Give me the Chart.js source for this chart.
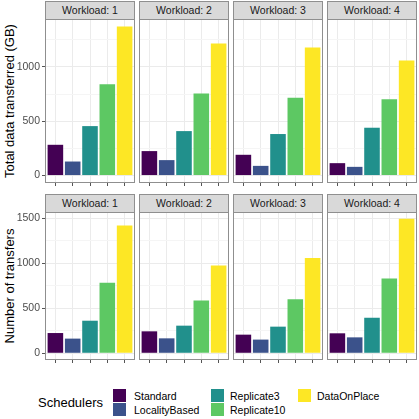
<!DOCTYPE html>
<html lang="en">
<head>
<meta charset="UTF-8">
<title>Schedulers by workload</title>
<script src="https://cdn.jsdelivr.net/npm/chart.js@4.4.1/dist/chart.umd.min.js"></script>
<style>
  body { margin: 0; background: #fff; font-family: "Liberation Sans", Arial, sans-serif; }
  #page { position: relative; width: 419px; height: 419px; overflow: hidden; }
  canvas { position: absolute; }
  .strip { position: absolute; box-sizing: border-box; background: #d9d9d9; border: 1px solid #8f8f8f;
           font-size: 10.5px; color: #1a1a1a; text-align: center; }
  .ytitle { position: absolute; transform: translate(-50%, -50%) rotate(-90deg); font-size: 13px;
            white-space: nowrap; color: #000; }
  .legend-title { position: absolute; left: 38px; top: 395px; font-size: 13px; color: #000; }
  .key { position: absolute; width: 13px; height: 13px; }
  .key-label { position: absolute; font-size: 10.5px; color: #000; white-space: nowrap; }
</style>
</head>
<body>
<div id="page"></div>

<script>
// ---- data ----
const workloads = ['1', '2', '3', '4'];
const schedulers = ['Standard', 'LocalityBased', 'Replicate3', 'Replicate10', 'DataOnPlace'];
const colors = ['#440154', '#3B528B', '#21908C', '#5DC863', '#FDE725'];

// Total data transferred (GB), one array per workload, in scheduler order
const gbW1 = [283, 129, 455, 840, 1372];
const gbW2 = [225, 142, 409, 754, 1215];
const gbW3 = [191, 89, 382, 717, 1178];
const gbW4 = [114, 80, 440, 702, 1058];

// Number of transfers
const trW1 = [225, 163, 362, 783, 1422];
const trW2 = [244, 166, 307, 587, 975];
const trW3 = [207, 152, 296, 602, 1060];
const trW4 = [222, 177, 395, 831, 1496];

const gbMajorTicks = [0, 500, 1000];
const trMajorTicks = [0, 500, 1000, 1500];
const minorTicks = [250, 750, 1250];

// ---- layout ----
const panelLeft = [45, 139, 233, 327];
const panelW = 90;
const axisW = 45;
const rows = [
  { title: 'Total data transferred (GB)', series: [gbW1, gbW2, gbW3, gbW4], major: gbMajorTicks, stripTop: 1, top: 19, h: 164 },
  { title: 'Number of transfers', series: [trW1, trW2, trW3, trW4], major: trMajorTicks, stripTop: 194, top: 212, h: 148 }
];

Chart.defaults.font.family = '"Liberation Sans", Arial, sans-serif';
Chart.defaults.font.size = 10.5;
Chart.defaults.color = '#4d4d4d';

const panelBorder = {
  id: 'panelBorder',
  afterDraw(chart) {
    const a = chart.chartArea, c = chart.ctx;
    c.save();
    c.strokeStyle = '#8f8f8f';
    c.lineWidth = 1;
    c.strokeRect(a.left + 0.5, a.top + 0.5, a.right - a.left - 1, a.bottom - a.top - 1);
    c.restore();
  }
};

const page = document.getElementById('page');

rows.forEach(row => {
  const allVals = row.series.flat();
  const top = Math.max(...allVals);
  const yMin = -0.05 * top, yMax = 1.05 * top;
  const yTicks = row.major.concat(minorTicks).filter(v => v <= yMax).sort((a, b) => a - b);

  // y axis title
  const t = document.createElement('div');
  t.className = 'ytitle';
  t.textContent = row.title;
  t.style.left = '9px';
  t.style.top = (row.top + row.h / 2) + 'px';
  page.appendChild(t);

  workloads.forEach((w, col) => {
    const strip = document.createElement('div');
    strip.className = 'strip';
    strip.textContent = 'Workload: ' + w;
    strip.style.left = panelLeft[col] + 'px';
    strip.style.top = row.stripTop + 'px';
    strip.style.width = panelW + 'px';
    strip.style.height = (row.top - row.stripTop + 1) + 'px';
    strip.style.lineHeight = (row.top - row.stripTop - 1) + 'px';
    page.appendChild(strip);

    const left = col === 0 ? 0 : panelLeft[col];
    const yw = col === 0 ? axisW : 0;
    const cv = document.createElement('canvas');
    cv.width = panelW + yw;
    cv.height = row.h + 4;
    cv.style.left = left + 'px';
    cv.style.top = row.top + 'px';
    page.appendChild(cv);

    const vals = row.series[col];
    new Chart(cv, {
      type: 'bar',
      data: {
        datasets: [{
          data: vals.map((v, i) => ({ x: i + 1, y: v })),
          backgroundColor: colors,
          borderWidth: 0,
          categoryPercentage: 0.9,
          barPercentage: 1
        }]
      },
      options: {
        responsive: false,
        animation: false,
        layout: { padding: 0 },
        plugins: { legend: { display: false }, tooltip: { enabled: false } },
        scales: {
          x: {
            type: 'linear',
            min: 0.4,
            max: 5.6,
            offset: false,
            afterBuildTicks: s => { s.ticks = schedulers.map((_, i) => ({ value: i + 1 })); },
            afterFit: s => { s.height = 4; s.paddingLeft = 0; s.paddingRight = 0; },
            ticks: { display: false },
            border: { display: false },
            grid: { offset: false, color: '#ebebeb', lineWidth: 1, drawTicks: true, tickLength: 3, tickColor: '#555' }
          },
          y: {
            min: yMin,
            max: yMax,
            afterBuildTicks: s => { s.ticks = yTicks.map(v => ({ value: v })); },
            afterFit: s => { s.width = yw; s.paddingTop = 0; s.paddingBottom = 0; },
            border: { display: false },
            ticks: {
              display: col === 0,
              padding: 2,
              color: '#4d4d4d',
              callback: v => row.major.includes(v) ? String(v) : ''
            },
            grid: {
              color: c => row.major.includes(c.tick.value) ? '#ebebeb' : '#f5f5f5',
              lineWidth: 1,
              drawTicks: col === 0,
              tickLength: 3,
              tickColor: c => row.major.includes(c.tick.value) ? '#555' : 'rgba(0,0,0,0)'
            }
          }
        }
      },
      plugins: [panelBorder]
    });
  });
});

// ---- legend ----
const lt = document.createElement('div');
lt.className = 'legend-title';
lt.textContent = 'Schedulers';
page.appendChild(lt);

const keyCols = [{ key: 113, label: 134 }, { key: 211, label: 230 }, { key: 298, label: 317 }];
const keyRows = [389, 403];
schedulers.forEach((s, i) => {
  const c = keyCols[Math.floor(i / 2)];
  const r = keyRows[i % 2];
  const k = document.createElement('div');
  k.className = 'key';
  k.style.left = c.key + 'px';
  k.style.top = r + 'px';
  k.style.background = colors[i];
  page.appendChild(k);
  const l = document.createElement('div');
  l.className = 'key-label';
  l.textContent = s;
  l.style.left = c.label + 'px';
  l.style.top = (r + 0.5) + 'px';
  page.appendChild(l);
});
</script>
</body>
</html>
